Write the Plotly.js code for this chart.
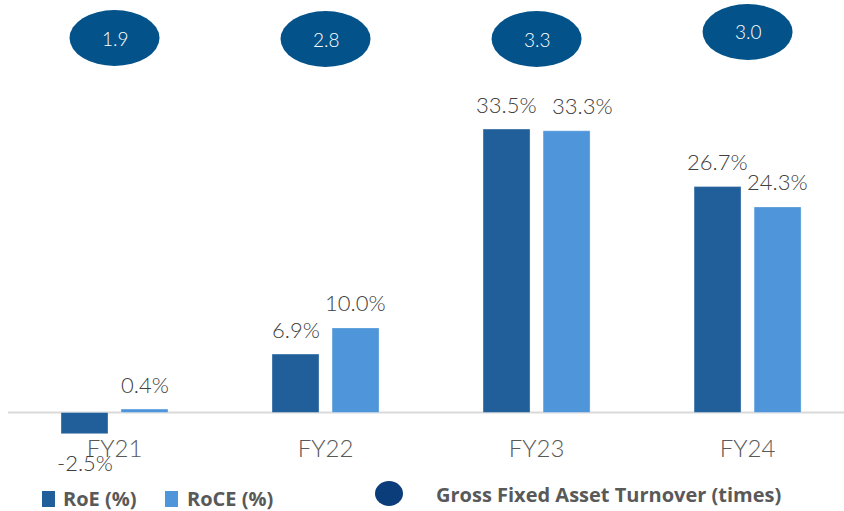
<!DOCTYPE html>
<html>
<head>
<meta charset="utf-8">
<script src="https://cdn.plot.ly/plotly-3.0.1.min.js"></script>
<style>html,body{margin:0;padding:0;background:#fff;}#chart{width:844px;height:511px;}</style>
</head>
<body>
<div id="chart"></div>
<script>
// ---- data ----
const categories = ['FY21', 'FY22', 'FY23', 'FY24'];
const roe = [-2.5, 6.9, 33.5, 26.7];
const roce = [0.4, 10.0, 33.3, 24.3];
const turnover = [1.9, 2.8, 3.3, 3.0];
const seriesNames = ['RoE (%)', 'RoCE (%)'];
const turnoverName = 'Gross Fixed Asset Turnover (times)';

// ---- layout constants ----
const W = 844, H = 511, MT = 80, MB = 75;
const plotH = H - MT - MB;
const colRoE = '#215F9A', colRoCE = '#4E95D9', colBubble = '#03538A', colLegendDot = '#0B3D7A';
const bubbleCenterPx = [38, 39, 39, 32];
const roceLabelNudgePx = [0, 0, 16, 0];
const groupOffset = 0.1422;
const numFont = 'Lato, "Open Sans", sans-serif';
const legFont = '"Open Sans", Roboto, sans-serif';
const px2py = py => (H - MB - py) / plotH;
const px2px = px => px / W;
const fmt = v => v.toFixed(1) + '%';

const traces = [
  {type: 'bar', name: seriesNames[0], x: categories.map((c, i) => i), y: roe,
   marker: {color: colRoE, line: {color: 'rgba(255,255,255,0.35)', width: 1}}, hoverinfo: 'skip'},
  {type: 'bar', name: seriesNames[1], x: categories.map((c, i) => i), y: roce,
   marker: {color: colRoCE, line: {color: 'rgba(255,255,255,0.35)', width: 1}}, hoverinfo: 'skip'}
];

const annotations = [];
const shapes = [];

// data labels
[[roe, -groupOffset, null], [roce, groupOffset, roceLabelNudgePx]].forEach(([arr, off, nudge]) => {
  arr.forEach((v, i) => {
    annotations.push({x: i + off, y: v, xref: 'x', yref: 'y', text: fmt(v), showarrow: false,
      xanchor: 'center', yanchor: 'middle', yshift: v >= 0 ? 25 : -29, xshift: nudge ? nudge[i] : 0,
      font: {family: numFont, size: 22, weight: 300, color: '#404040'}});
  });
});

// bubbles
turnover.forEach((v, i) => {
  const yp = px2py(bubbleCenterPx[i]);
  shapes.push({type: 'circle', xref: 'x', yref: 'paper', xsizemode: 'pixel', ysizemode: 'pixel',
    xanchor: i, yanchor: yp, x0: -45, x1: 45, y0: -28, y1: 28,
    fillcolor: colBubble, line: {width: 0}, layer: 'above'});
  annotations.push({x: i, y: yp, xref: 'x', yref: 'paper', text: v.toFixed(1), showarrow: false,
    xanchor: 'center', yanchor: 'middle',
    font: {family: numFont, size: 19, weight: 300, color: '#ffffff'}});
});

// zero baseline
shapes.push({type: 'line', xref: 'paper', yref: 'y', x0: px2px(8), x1: 1, y0: 0, y1: 0,
  line: {color: '#D9D9D9', width: 2}, layer: 'below'});

// manual legend
const legItems = [
  {col: colRoE, sq: [42, 55], tx: 61, name: seriesNames[0]},
  {col: colRoCE, sq: [165, 178], tx: 185, name: seriesNames[1]}
];
legItems.forEach(it => {
  shapes.push({type: 'rect', xref: 'paper', yref: 'paper', x0: px2px(it.sq[0]), x1: px2px(it.sq[1]),
    y0: px2py(507), y1: px2py(491), fillcolor: it.col, line: {width: 0}});
  annotations.push({xref: 'paper', yref: 'paper', x: px2px(it.tx), y: px2py(498), xanchor: 'left', yanchor: 'middle',
    text: '<b>' + it.name + '</b>', showarrow: false, font: {family: legFont, size: 20, color: '#595959'}});
});
shapes.push({type: 'circle', xref: 'paper', yref: 'paper', x0: px2px(375), x1: px2px(403),
  y0: px2py(506), y1: px2py(481), fillcolor: colLegendDot, line: {width: 0}});
annotations.push({xref: 'paper', yref: 'paper', x: px2px(434), y: px2py(494), xanchor: 'left', yanchor: 'middle',
  text: '<b>' + turnoverName + '</b>', showarrow: false, font: {family: legFont, size: 20, color: '#595959'}});

const layout = {
  width: W, height: H,
  margin: {l: 0, r: 0, t: MT, b: MB, pad: 0},
  paper_bgcolor: '#ffffff', plot_bgcolor: '#ffffff',
  showlegend: false,
  barmode: 'group', bargap: 0.431, bargroupgap: 0.217,
  xaxis: {range: [-0.5427, 3.457], tickvals: categories.map((c, i) => i), ticktext: categories,
    showgrid: false, zeroline: false, showline: false, ticks: '', fixedrange: true,
    ticklabelstandoff: -4,
    tickfont: {family: numFont, size: 24, weight: 300, color: '#595959'}},
  yaxis: {range: [-2.78, 39.30], showgrid: false, zeroline: false, showticklabels: false,
    showline: false, ticks: '', fixedrange: true},
  shapes: shapes,
  annotations: annotations
};

Plotly.newPlot('chart', traces, layout, {displayModeBar: false, staticPlot: true});
</script>
</body>
</html>
